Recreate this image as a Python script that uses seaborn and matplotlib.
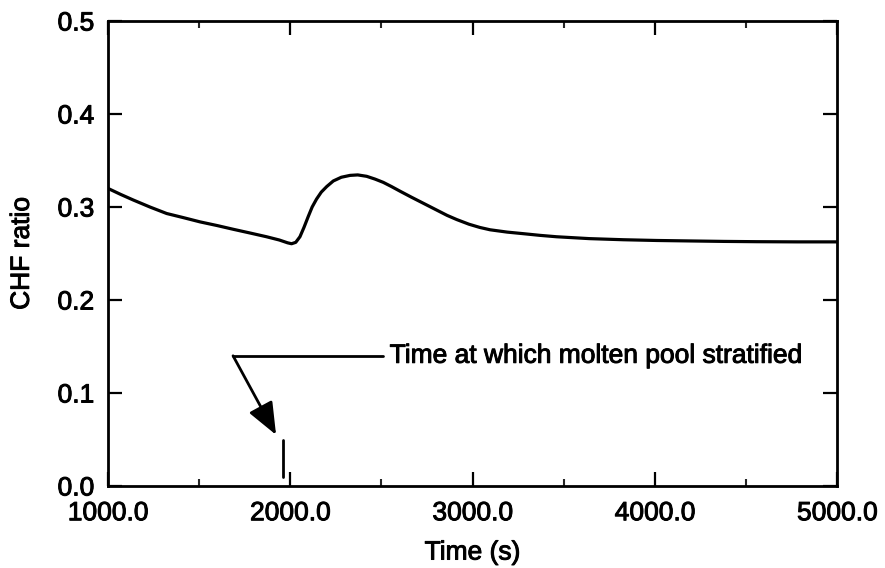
import matplotlib
matplotlib.use("Agg")
import matplotlib.pyplot as plt
import matplotlib.patheffects as pe
import seaborn as sns
import pandas as pd

# ---- data ----
time_s = [1000, 1070, 1139, 1230, 1322, 1415, 1505, 1600, 1688, 1780, 1870,
          1940, 1985, 2007, 2030, 2053, 2075, 2099, 2120, 2144, 2170, 2200,
          2236, 2280, 2328, 2370, 2419, 2465, 2510, 2555, 2602, 2665, 2730,
          2800, 2860, 2913, 2980, 3040, 3096, 3190, 3279, 3370, 3461, 3640,
          3827, 4010, 4193, 4380, 4559, 4780, 5000]
chf_ratio = [0.320, 0.3135, 0.3075, 0.300, 0.293, 0.2885, 0.284, 0.280,
             0.276, 0.272, 0.268, 0.2645, 0.2615, 0.2605, 0.262, 0.268,
             0.278, 0.290, 0.300, 0.3085, 0.316, 0.322, 0.328, 0.332, 0.334,
             0.3345, 0.333, 0.330, 0.3265, 0.322, 0.317, 0.3105, 0.304,
             0.297, 0.291, 0.2865, 0.2815, 0.278, 0.2755, 0.273, 0.2713,
             0.2695, 0.268, 0.266, 0.2648, 0.264, 0.2635, 0.263, 0.2627,
             0.2625, 0.2625]

x_ticks = [1000, 2000, 3000, 4000, 5000]
x_tick_labels = ["1000.0", "2000.0", "3000.0", "4000.0", "5000.0"]
y_ticks = [0.0, 0.1, 0.2, 0.3, 0.4, 0.5]
y_tick_labels = ["0.0", "0.1", "0.2", "0.3", "0.4", "0.5"]

stratify_time = 1960
marker_bottom, marker_top = 0.0095, 0.0495
note_text = "Time at which molten pool stratified"
note_y = 0.140
note_elbow_x = 1686
note_line_end_x = 2509
note_text_x = 2545
arrow_tip = (1922, 0.055)

# ---- styling ----
sns.set_theme(style="ticks")
plt.rcParams["font.family"] = ["Liberation Sans", "DejaVu Sans"]
FS = 19
thick = [pe.withStroke(linewidth=0.7, foreground="black")]

fig = plt.figure(figsize=(8.85, 5.68), dpi=100)
ax = fig.add_axes([0.122, 0.1444, 0.824, 0.8186])

df = pd.DataFrame({"Time (s)": time_s, "CHF ratio": chf_ratio})
sns.lineplot(data=df, x="Time (s)", y="CHF ratio", ax=ax, color="black",
             linewidth=2.3, sort=False, estimator=None)

ax.set_xlim(1000, 5000)
ax.set_ylim(0.0, 0.5)
ax.set_xticks(x_ticks)
ax.set_xticklabels(x_tick_labels)
ax.set_xticks([1500, 2500, 3500, 4500], minor=True)
ax.set_yticks(y_ticks)
ax.set_yticklabels(y_tick_labels)

for sp in ax.spines.values():
    sp.set_linewidth(2.0)
    sp.set_color("black")

ax.tick_params(axis="both", which="major", direction="in", length=10,
               width=1.6, top=True, right=True, labelsize=FS, colors="black")
ax.tick_params(axis="x", which="major", pad=11)
ax.tick_params(axis="y", which="major", pad=10)
ax.tick_params(axis="x", which="minor", direction="in", length=5,
               width=1.5, top=True, bottom=True)
for lab in ax.get_xticklabels() + ax.get_yticklabels():
    lab.set_path_effects(thick)

ax.set_xlabel("Time (s)", fontsize=FS, labelpad=11, color="black",
              path_effects=thick)
ax.set_ylabel("CHF ratio", fontsize=FS, labelpad=17, color="black",
              path_effects=thick)

# stratification marker
ax.plot([stratify_time, stratify_time], [marker_bottom, marker_top],
        color="black", linewidth=2.0)

# annotation
ax.plot([note_elbow_x, note_line_end_x], [note_y, note_y], color="black",
        linewidth=2.0)
ax.annotate("", xy=arrow_tip, xytext=(note_elbow_x, note_y),
            arrowprops=dict(arrowstyle="-|>,head_length=1.1,head_width=0.45",
                            mutation_scale=18, color="black", lw=2.0,
                            shrinkA=0, shrinkB=0))
ax.text(note_text_x, note_y, note_text, fontsize=FS, va="center", ha="left",
        color="black", path_effects=thick)

fig.savefig("out.png", dpi=100, facecolor="white")
